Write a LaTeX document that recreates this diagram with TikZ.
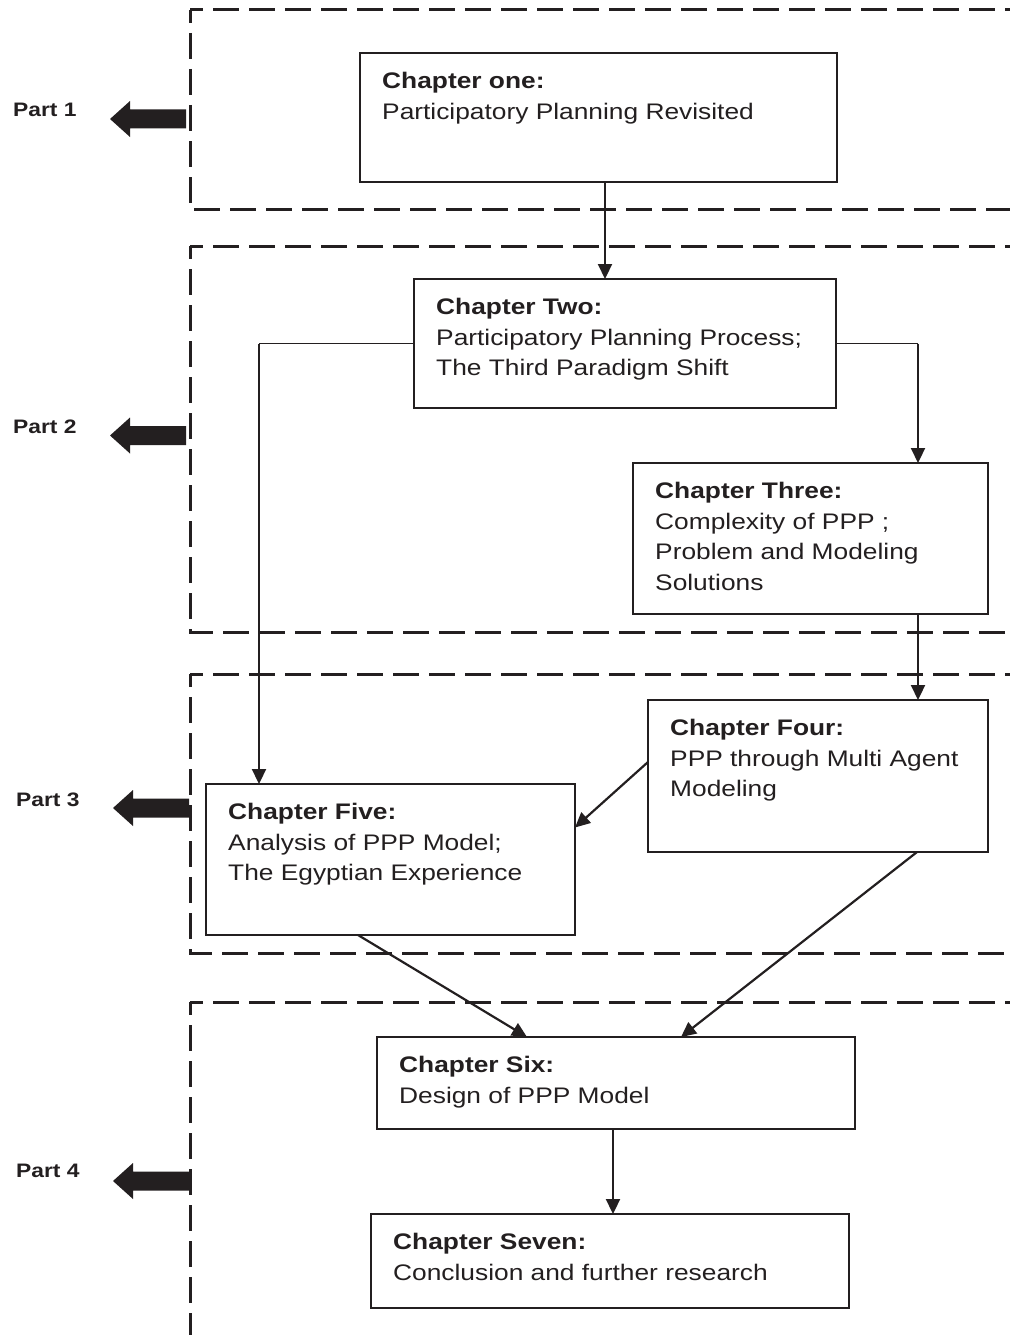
\documentclass[tikz,border=0pt]{standalone}
\usepackage{fontspec}
\newfontfamily\diagfont[FakeStretch=1.17]{Liberation Sans}
\usetikzlibrary{arrows.meta}
\definecolor{ink}{HTML}{231F20}

% chapter box: name, left, top, width, height, text
\newcommand\chap[6]{%
  \node[chbox, minimum width=#4pt, minimum height=#5pt] (#1) at (#2,#3) {};
  \node[chtext] (#1-text) at ([xshift=22pt,yshift=-19pt]#1.north west) {#6};}

% thick arrow pointing left: centre y, tip x, tail x
\newcommand\partarrow[3]{%
  \fill[bigarrow] (#3,#1-9.5) -- (#2+20,#1-9.5) -- (#2+20,#1-18) -- (#2,#1)
    -- (#2+20,#1+18) -- (#2+20,#1+9.5) -- (#3,#1+9.5) -- cycle;}

\begin{document}
\begin{tikzpicture}[x=1pt,y=-1pt,
  chbox/.style={draw=ink, line width=1.8pt, anchor=north west, inner sep=0pt, outer sep=0pt},
  chtext/.style={anchor=north west, inner sep=0pt, align=left, text=ink,
    font=\diagfont\fontsize{22.5}{30.5}\selectfont},
  partframe/.style={draw=ink, line width=3pt, dash pattern=on 26pt off 10pt, dash phase=13pt},
  partlabel/.style={anchor=base west, inner sep=0pt, text=ink,
    font=\diagfont\bfseries\fontsize{19.5}{22}\selectfont},
  conn/.style={draw=ink, line width=2.2pt, -{Triangle[length=15pt,width=14pt]}},
  feed/.style={draw=ink, line width=1.4pt},
  bigarrow/.style={fill=ink}
]
\useasboundingbox (0,0) rectangle (1009,1335);

% dashed frames of the four parts
\draw[partframe] (190,10) -- (1020,10);
\draw[partframe] (190,10) -- (190,209) -- (1020,209);
\draw[partframe] (190,246) -- (1020,246);
\draw[partframe] (190,246) -- (190,632) -- (1020,632);
\draw[partframe] (190,674) -- (1020,674);
\draw[partframe] (190,674) -- (190,953) -- (1020,953);
\draw[partframe] (190,1002) -- (1020,1002);
\draw[partframe] (190,1002) -- (190,1345);

% part labels and their arrows
\node[partlabel] (p1) at (13,117) {Part 1};
\node[partlabel] (p2) at (13,433) {Part 2};
\node[partlabel] (p3) at (16,806) {Part 3};
\node[partlabel] (p4) at (16,1177) {Part 4};
\partarrow{119}{110}{186}
\partarrow{435.5}{110}{186}
\partarrow{808}{113}{189}
\partarrow{1181}{113}{189}

% chapters
\chap{ch1}{360}{53}{477}{129}{\textbf{Chapter one:}\\Participatory Planning Revisited}
\chap{ch2}{414}{279}{422}{129}{\textbf{Chapter Two:}\\Participatory Planning Process;\\The Third Paradigm Shift}
\chap{ch3}{633}{463}{355}{151}{\textbf{Chapter Three:}\\Complexity of PPP ;\\Problem and Modeling\\Solutions}
\chap{ch4}{648}{700}{340}{152}{\textbf{Chapter Four:}\\PPP through Multi Agent\\Modeling}
\chap{ch5}{206}{784}{369}{151}{\textbf{Chapter Five:}\\Analysis of PPP Model;\\The Egyptian Experience}
\chap{ch6}{377}{1037}{478}{92}{\textbf{Chapter Six:}\\Design of PPP Model}
\chap{ch7}{371}{1214}{478}{94}{\textbf{Chapter Seven:}\\Conclusion and further research}

% connectors
\draw[conn] ([xshift=245pt]ch1.south west) -- ([xshift=191pt]ch2.north west);
\draw[feed] (ch2.west) -- ++(-155,0) coordinate (bendL);
\draw[conn] (bendL) -- ([xshift=53pt]ch5.north west);
\draw[feed] (ch2.east) -- ++(82,0) coordinate (bendR);
\draw[conn] (bendR) -- ([xshift=285pt]ch3.north west);
\draw[conn] ([xshift=285pt]ch3.south west) -- ([xshift=270pt]ch4.north west);
\draw[conn] ([yshift=14pt]ch4.west) -- ([yshift=32pt]ch5.east);
\draw[conn] ([xshift=152pt]ch5.south west) -- ([xshift=150pt]ch6.north west);
\draw[conn] ([xshift=269pt]ch4.south west) -- ([xshift=304pt]ch6.north west);
\draw[conn] ([xshift=236pt]ch6.south west) -- ([xshift=242pt]ch7.north west);
\end{tikzpicture}
\end{document}
